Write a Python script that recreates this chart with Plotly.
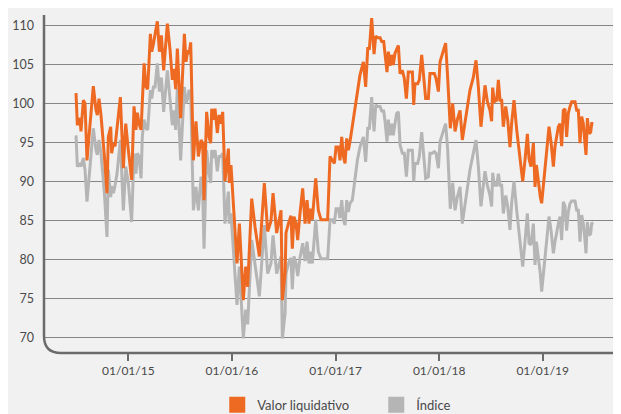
import pandas as pd
import plotly.graph_objects as go

# Fecha en años decimales
fecha_decimal = [
    2014.495, 2014.508, 2014.534, 2014.543, 2014.566, 2014.582, 2014.601, 2014.630, 2014.662, 2014.688,
    2014.701, 2014.717, 2014.736, 2014.769, 2014.794, 2014.807, 2014.830, 2014.839, 2014.856, 2014.872,
    2014.891, 2014.923, 2014.952, 2014.975, 2015.000, 2015.032, 2015.055, 2015.074, 2015.087, 2015.103,
    2015.123, 2015.135, 2015.152, 2015.171, 2015.187, 2015.213, 2015.226, 2015.242, 2015.258, 2015.280,
    2015.300, 2015.319, 2015.341, 2015.377, 2015.403, 2015.425, 2015.441, 2015.457, 2015.473, 2015.486,
    2015.505, 2015.541, 2015.557, 2015.573, 2015.586, 2015.602, 2015.628, 2015.653, 2015.676,
    2015.702, 2015.718, 2015.731, 2015.756, 2015.779, 2015.795, 2015.805, 2015.821, 2015.837, 2015.859,
    2015.876, 2015.892, 2015.911, 2015.933, 2015.966, 2015.975, 2015.991, 2016.023, 2016.049, 2016.072,
    2016.110, 2016.133, 2016.152, 2016.191, 2016.223, 2016.265, 2016.313, 2016.345, 2016.377, 2016.397,
    2016.432, 2016.474, 2016.487, 2016.513, 2016.522, 2016.545, 2016.570, 2016.583, 2016.599, 2016.619,
    2016.635, 2016.657, 2016.683, 2016.706, 2016.725, 2016.744, 2016.760, 2016.776, 2016.809, 2016.834,
    2016.860, 2016.915,
    2016.924, 2016.947, 2016.969, 2016.989, 2017.005, 2017.027, 2017.043, 2017.060, 2017.076, 2017.092,
    2017.108, 2017.124, 2017.140, 2017.162, 2017.188, 2017.211, 2017.236, 2017.269, 2017.291, 2017.311,
    2017.327, 2017.349, 2017.372, 2017.388, 2017.407, 2017.430, 2017.446, 2017.465, 2017.478, 2017.497,
    2017.510, 2017.526, 2017.542, 2017.558, 2017.574, 2017.590, 2017.607, 2017.623, 2017.645, 2017.664,
    2017.684, 2017.703, 2017.729, 2017.742, 2017.755, 2017.767, 2017.793, 2017.809, 2017.832, 2017.854,
    2017.870, 2017.896, 2017.912, 2017.935, 2017.954, 2017.970, 2017.993, 2018.009, 2018.034, 2018.063,
    2018.083, 2018.108, 2018.131, 2018.154, 2018.176, 2018.202,
    2018.224, 2018.266, 2018.298, 2018.330, 2018.356, 2018.379, 2018.404, 2018.443, 2018.466, 2018.491,
    2018.507, 2018.517, 2018.533, 2018.556, 2018.572, 2018.588, 2018.604, 2018.620, 2018.643, 2018.662,
    2018.684, 2018.700, 2018.723, 2018.749, 2018.781, 2018.807, 2018.829, 2018.852, 2018.868, 2018.887,
    2018.910, 2018.926, 2018.939, 2018.951, 2018.977, 2018.990, 2019.016, 2019.038, 2019.061, 2019.080,
    2019.103, 2019.119, 2019.135, 2019.151, 2019.167, 2019.183, 2019.199, 2019.215, 2019.231, 2019.247,
    2019.264, 2019.280, 2019.312, 2019.328, 2019.344, 2019.360, 2019.376, 2019.392, 2019.408, 2019.418,
    2019.431, 2019.447, 2019.463, 2019.473, 2019.489,
]

valor_liquidativo = [
    101.3, 97.2, 98.1, 96.4, 100.4, 100.0, 92.7, 97.0, 102.2, 99.1,
    98.5, 100.6, 98.5, 93.2, 88.5, 95.7, 97.0, 93.6, 94.9, 94.5,
    96.6, 100.8, 91.7, 97.4, 94.0, 90.2, 99.6, 96.6, 98.8, 97.4,
    96.6, 100.0, 105.1, 102.1, 101.8, 108.9, 106.6, 107.6, 108.9, 110.5,
    106.6, 108.7, 104.2, 110.2, 106.8, 103.0, 104.4, 101.8, 107.0, 102.8,
    98.1, 108.9, 105.3, 106.8, 106.3, 107.8, 92.7, 97.7, 93.2,
    95.3, 94.9, 87.6, 98.9, 95.7, 94.9, 99.3, 97.9, 99.3, 96.2,
    98.5, 97.4, 98.9, 90.0, 94.2, 89.8, 92.1, 85.5, 79.5, 84.6,
    74.8, 79.1, 76.5, 87.8, 84.2, 80.4, 89.8, 83.6, 84.9, 88.5,
    83.4, 86.3, 74.8, 78.2, 83.4, 84.6, 85.6, 81.4, 85.5, 84.6,
    82.5, 85.9, 89.1, 84.6, 87.6, 84.6, 86.5, 85.1, 90.4, 86.3,
    85.1, 85.1,
    85.1, 93.2, 92.7, 92.3, 94.4, 94.4, 92.7, 95.7, 93.2, 92.3,
    95.5, 94.0, 95.1, 97.0, 99.1, 101.7, 103.6, 105.3, 102.1, 107.0,
    107.0, 110.9, 106.3, 108.6, 108.4, 108.4, 107.9, 107.9, 106.3, 104.0,
    106.6, 104.8, 106.2, 104.9, 106.4, 107.0, 107.4, 103.8, 104.2, 103.2,
    100.6, 104.0, 104.0, 104.0, 99.8, 102.5, 102.5, 103.0, 106.2, 103.2,
    100.6, 100.6, 103.8, 103.8, 103.8, 103.2, 101.5, 105.3, 106.4, 107.7,
    103.2, 96.8, 100.0, 96.4, 97.9, 99.1,
    95.3, 99.1, 101.7, 103.3, 105.5, 102.1, 97.0, 102.3, 100.2, 99.1,
    97.7, 102.0, 100.2, 100.4, 103.0, 100.4, 100.4, 97.0, 99.6, 97.9,
    94.4, 97.4, 100.4, 96.6, 92.7, 90.0, 92.7, 96.1, 92.9, 91.9,
    94.9, 89.3, 92.1, 90.6, 88.0, 87.2, 91.0, 94.0, 97.0, 95.1,
    91.9, 94.5, 96.1, 97.0, 97.4, 94.5, 99.1, 99.3, 95.7, 98.7,
    99.6, 100.2, 100.2, 99.1, 99.1, 94.9, 98.3, 97.4, 94.9, 93.4,
    98.1, 96.1, 96.3, 97.4, 97.4,
]

indice = [
    95.9, 91.9, 92.3, 91.9, 93.0, 91.5, 87.4, 91.5, 96.8, 94.0,
    93.4, 95.3, 93.6, 88.5, 82.9, 91.5, 88.0, 89.4, 88.5, 89.5,
    91.0, 95.3, 86.3, 91.9, 89.8, 84.8, 93.6, 91.0, 93.6, 93.2,
    90.4, 95.7, 97.9, 96.8, 96.6, 101.7, 100.6, 102.1, 102.1, 105.1,
    101.5, 103.3, 98.9, 104.2, 100.4, 97.2, 99.1, 96.6, 101.9, 98.3,
    92.7, 102.1, 100.0, 100.6, 101.7, 101.3, 86.3, 89.3, 86.3,
    90.6, 88.5, 81.4, 94.0, 91.0, 89.8, 94.0, 93.0, 94.0, 91.3,
    93.2, 93.2, 93.6, 84.6, 88.7, 84.6, 85.9, 79.5, 74.2, 79.1,
    69.9, 73.6, 71.7, 82.5, 79.5, 75.3, 84.4, 78.2, 79.5, 83.1,
    78.2, 80.4, 69.9, 73.1, 78.2, 79.5, 80.2, 76.2, 80.4, 79.5,
    77.9, 80.2, 82.1, 79.8, 82.3, 79.5, 81.0, 79.5, 85.1, 81.0,
    80.1, 80.1,
    80.1, 85.1, 85.1, 84.6, 86.5, 86.5, 85.3, 87.6, 85.1, 84.4,
    87.6, 86.1, 87.2, 87.6, 90.2, 92.7, 94.4, 95.7, 92.5, 96.8,
    96.8, 100.8, 96.4, 99.8, 99.6, 99.6, 99.0, 99.0, 97.7, 95.1,
    97.9, 95.9, 97.4, 95.9, 97.4, 98.7, 98.9, 94.7, 93.6, 93.6,
    90.6, 94.0, 94.0, 94.0, 90.0, 92.3, 92.3, 93.2, 96.3, 93.2,
    90.4, 90.6, 93.6, 93.6, 93.8, 93.6, 91.7, 95.1, 96.2, 97.4,
    94.0, 86.5, 89.8, 86.3, 88.0, 89.3,
    84.6, 88.7, 91.5, 93.6, 95.3, 91.9, 86.8, 91.3, 89.5, 88.2,
    86.8, 91.1, 89.5, 89.5, 91.0, 89.5, 89.5, 85.9, 88.2, 86.8,
    83.8, 87.2, 90.0, 86.3, 82.5, 79.1, 82.3, 85.9, 82.1, 81.9,
    84.6, 79.3, 82.3, 81.0, 78.2, 75.9, 79.5, 82.5, 85.5, 83.8,
    80.8, 82.3, 83.7, 84.6, 85.5, 82.5, 87.4, 86.8, 83.7, 86.1,
    87.2, 87.5, 87.5, 86.3, 86.3, 82.3, 85.7, 84.6, 82.5, 80.8,
    84.8, 83.1, 83.3, 84.6, 84.7,
]

anios_ticks = [2015, 2016, 2017, 2018, 2019]
y_ticks = [70, 75, 80, 85, 90, 95, 100, 105, 110]
rango_x_decimal = [2014.186, 2019.833]
rango_y = [68.04, 111.3]


def a_fecha(t):
    return pd.Timestamp("2015-01-01") + pd.to_timedelta((t - 2015.0) * 365.25, unit="D")


fechas = [a_fecha(t) for t in fecha_decimal]
tick_fechas = [pd.Timestamp(f"{a}-01-01") for a in anios_ticks]

NARANJA = "#ee6a22"
GRIS = "#b5b5b5"
FONDO = "#f1f1f1"
EJE = "#6b6b6b"
TEXTO = "#4a4a4a"

fig = go.Figure()
fig.add_trace(go.Scatter(x=fechas, y=indice, mode="lines", name="Índice",
                         line=dict(color=GRIS, width=3), showlegend=False))
fig.add_trace(go.Scatter(x=fechas, y=valor_liquidativo, mode="lines", name="Valor liquidativo",
                         line=dict(color=NARANJA, width=3), showlegend=False))
# legend entries (squares)
fig.add_trace(go.Scatter(x=[None], y=[None], mode="markers", name="Valor liquidativo",
                         marker=dict(symbol="square", size=18, color=NARANJA)))
fig.add_trace(go.Scatter(x=[None], y=[None], mode="markers", name="Índice",
                         marker=dict(symbol="square", size=18, color=GRIS)))

ML, MR, MT, MB = 36, 0, 7, 69
ancho_plot = 621 - ML - MR
alto_plot = 414 - MT - MB
rx = 17 / ancho_plot
ry = 17 / alto_plot
fig.add_shape(type="path", xref="paper", yref="paper",
              path=f"M 0,1 L 0,{ry} Q 0,0 {rx},0 L 1.02,0",
              line=dict(color=EJE, width=2.5), layer="above")

fig.update_layout(
    width=621, height=414,
    margin=dict(l=ML, r=MR, t=MT, b=MB, autoexpand=False),
    paper_bgcolor=FONDO, plot_bgcolor=FONDO,
    font=dict(family="Lato", size=12, color=TEXTO),
    showlegend=True,
    legend=dict(orientation="h", xref="container", yref="container",
                x=0.593, xanchor="center", y=0.078, yanchor="top",
                font=dict(size=13, color=TEXTO),
                bgcolor="rgba(0,0,0,0)", entrywidth=114, entrywidthmode="pixels"),
    xaxis=dict(type="date", range=[a_fecha(rango_x_decimal[0]), a_fecha(rango_x_decimal[1])],
               tickvals=tick_fechas, tickformat="%d/%m/%y", automargin=False,
               showgrid=False, zeroline=False, showline=False,
               ticks="outside", ticklen=7, tickwidth=2, tickcolor=EJE,
               ticklabelstandoff=0,
               tickfont=dict(size=12, color=TEXTO)),
    yaxis=dict(range=rango_y, tickvals=y_ticks, showgrid=True, gridcolor="#858585", gridwidth=1,
               zeroline=False, showline=False, ticks="", ticklabelstandoff=9, automargin=False,
               tickfont=dict(size=12.5, color=TEXTO)),
)

fig.write_html("out.html")
